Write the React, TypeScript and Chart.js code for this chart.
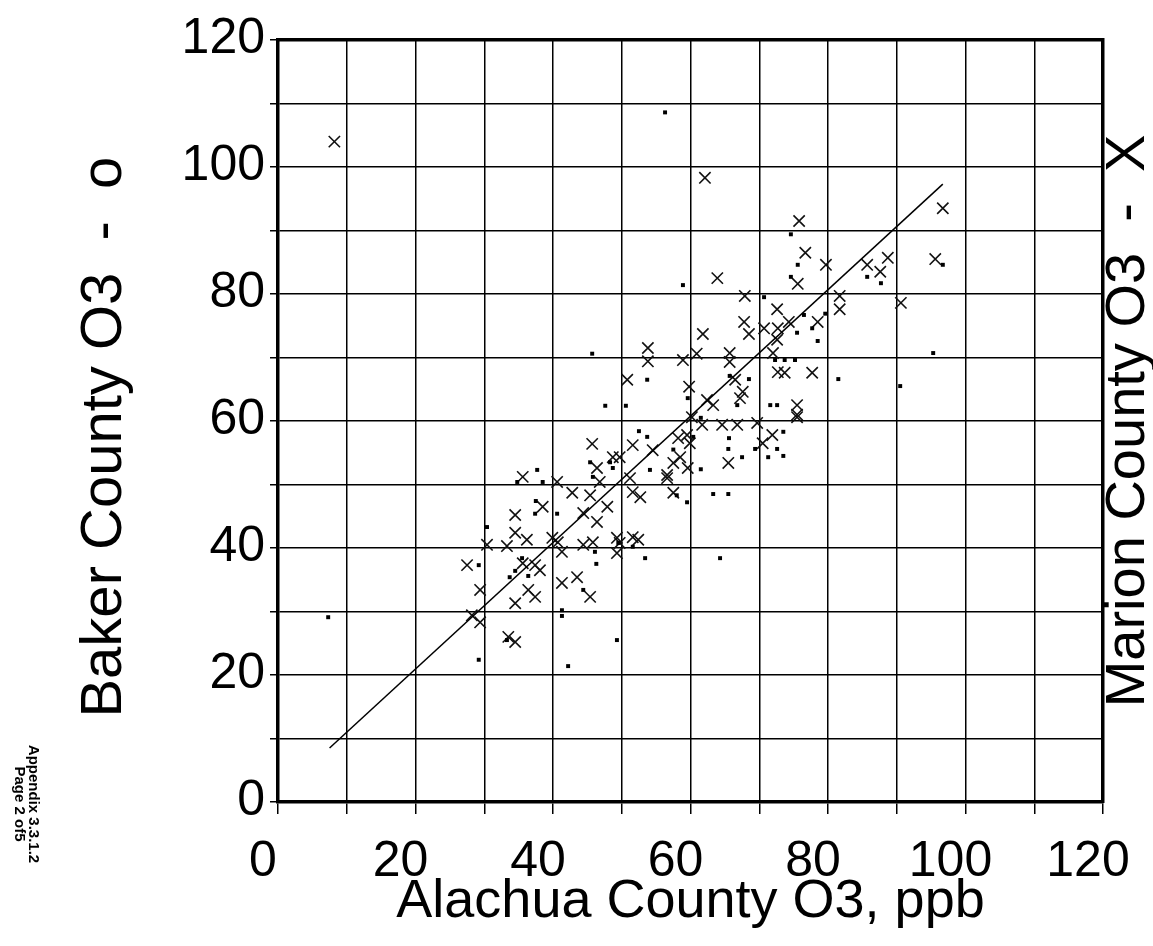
import React, { useEffect, useRef } from 'react';
import { Chart, registerables } from 'chart.js';

Chart.register(...registerables);

const FONT = '"Liberation Sans", Arial, Helvetica, sans-serif';

// Axis ranges / ticks
const axisMin = 0;
const axisMax = 120;
const gridStep = 10;
const labelStep = 20;

// Texts
const xTitle = 'Alachua County O3, ppb';
const yTitle = 'Baker County O3  -  o  ';
const rightTitle = 'Marion County O3  -  X';
const noteLines = ['Appendix 3.3.1.2', 'Page 2 of5'];

// Marion County O3 (crosses): [Alachua, Marion]
const marionPoints: [number, number][] = [
  [8.2, 104], [62.1, 98.3], [75.8, 91.5], [96.7, 93.5], [76.7, 86.5], [79.7, 84.6],
  [95.6, 85.5], [85.7, 84.6], [88.7, 85.7], [87.6, 83.5], [63.9, 82.5], [75.6, 81.6],
  [67.9, 79.7], [81.7, 79.7], [81.7, 77.6], [90.6, 78.6], [72.6, 77.6], [67.8, 75.6],
  [78.5, 75.6], [70.7, 74.6], [68.5, 73.7], [61.8, 73.7], [72.7, 74.6], [74.3, 75.6],
  [72.6, 72.8], [58.9, 69.6], [60.9, 70.6], [65.7, 70.7], [65.7, 69.3], [72.0, 70.7],
  [72.7, 67.7], [73.7, 67.6], [66.5, 66.5], [77.7, 67.6], [59.8, 65.4], [67.6, 64.6],
  [67.2, 63.6], [62.4, 63.3], [63.3, 62.5], [75.5, 62.5], [75.5, 61.0], [60.2, 60.6],
  [61.7, 59.4], [64.6, 59.4], [66.8, 59.4], [69.7, 59.7], [71.9, 57.8], [70.5, 56.5],
  [58.5, 54.3], [57.5, 53.4], [59.6, 52.6], [65.5, 53.4], [56.6, 51.5], [57.5, 48.7],
  [59.5, 57.8], [59.9, 56.5], [58.2, 57.3], [45.7, 56.4], [51.6, 56.2], [54.5, 55.4],
  [48.7, 54.3], [49.7, 54.3], [46.4, 52.6], [35.6, 51.2], [40.6, 50.4], [46.8, 50.4],
  [51.2, 51.0], [42.8, 48.7], [45.4, 48.3], [51.6, 48.8], [52.7, 48.0], [56.6, 51.0],
  [38.5, 46.5], [47.9, 46.5], [44.4, 45.5], [46.4, 44.1], [34.5, 45.2], [34.5, 42.4],
  [36.2, 41.3], [30.4, 40.5], [33.3, 40.3], [39.9, 41.6], [40.7, 40.9], [44.4, 40.5],
  [45.8, 40.9], [49.3, 41.6], [49.7, 40.8], [51.6, 41.7], [52.4, 41.3], [41.3, 39.4],
  [49.3, 39.2], [27.5, 37.3], [35.6, 37.6], [37.4, 37.3], [38.1, 36.5], [41.3, 34.5],
  [43.5, 35.4], [36.4, 33.4], [37.4, 32.3], [45.4, 32.3], [29.4, 33.4], [34.5, 31.3],
  [28.2, 29.4], [29.4, 28.3], [33.5, 26.0], [34.5, 25.2], [53.8, 71.5], [53.8, 69.4],
  [50.8, 66.5], [75.5, 60.6],
];

// Baker County O3 (dots): [Alachua, Baker]
const bakerPoints: [number, number][] = [
  [74.6, 89.4], [75.6, 84.6], [74.6, 82.7], [85.7, 82.7], [87.7, 81.7], [96.7, 84.6],
  [58.9, 81.4], [70.7, 79.5], [76.5, 76.7], [77.7, 74.6], [79.6, 76.9], [75.5, 73.9],
  [78.5, 72.6], [90.5, 65.5], [95.3, 70.7], [81.5, 66.6], [68.5, 66.6], [65.7, 67.1],
  [59.6, 63.6], [66.8, 62.5], [71.6, 62.5], [72.6, 62.5], [72.3, 69.6], [73.7, 69.6],
  [75.2, 69.6], [65.6, 57.3], [65.5, 55.6], [67.5, 54.3], [73.5, 58.3], [72.6, 55.6],
  [73.5, 54.5], [71.3, 54.3], [61.5, 52.4], [63.3, 48.5], [65.5, 48.5], [64.3, 38.4],
  [59.5, 47.2], [58.0, 48.3], [69.4, 55.6], [52.5, 58.4], [53.7, 57.5], [37.7, 52.3],
  [34.8, 50.4], [38.5, 50.4], [40.6, 45.4], [37.4, 45.4], [30.4, 43.3], [46.1, 39.4],
  [46.3, 37.5], [53.4, 38.4], [35.5, 38.4], [34.5, 36.4], [36.4, 35.6], [33.7, 35.4],
  [44.4, 33.4], [41.3, 30.2], [41.3, 29.3], [42.2, 21.4], [29.2, 37.3], [29.2, 22.4],
  [49.3, 25.5], [49.5, 40.8], [51.6, 40.2], [45.8, 51.2], [48.7, 52.6], [45.4, 53.5],
  [48.3, 53.5], [54.1, 52.3], [37.5, 47.4], [53.7, 66.5], [47.6, 62.4], [50.6, 62.4],
  [45.7, 70.6], [7.3, 29.1], [33.3, 25.5], [56.3, 108.6], [60.4, 57.5], [61.5, 60.5],
  [57.5, 55.5],
];

// Fitted line end points
const fitLine: [number, number][] = [
  [7.5, 8.5],
  [96.7, 97.3],
];

const toXY = (pts: [number, number][]) => pts.map(([x, y]) => ({ x, y }));

const sideTextPlugin = {
  id: 'sideTexts',
  afterDraw(chart: any) {
    const { ctx, chartArea } = chart;
    ctx.save();
    ctx.fillStyle = '#000';
    ctx.font = `56px ${FONT}`;
    ctx.textAlign = 'center';
    ctx.textBaseline = 'middle';
    ctx.translate(1129, (chartArea.top + chartArea.bottom) / 2);
    ctx.rotate(-Math.PI / 2);
    ctx.fillText(rightTitle, 0, 0);
    ctx.restore();

    ctx.save();
    ctx.fillStyle = '#000';
    ctx.font = `bold 15px ${FONT}`;
    ctx.textAlign = 'center';
    ctx.textBaseline = 'middle';
    ctx.translate(26, 804);
    ctx.rotate(Math.PI / 2);
    ctx.fillText(noteLines[0], 0, -7);
    ctx.fillText(noteLines[1], 0, 7);
    ctx.restore();
  },
};

export default function App() {
  const canvasRef = useRef<HTMLCanvasElement | null>(null);

  useEffect(() => {
    if (!canvasRef.current) return;
    const edgeAxis = (position: string) => ({
      type: 'linear',
      position,
      display: true,
      min: axisMin,
      max: axisMax,
      ticks: { display: false },
      grid: { display: false, drawTicks: false },
      border: { display: true, color: '#000', width: 3.5 },
      afterFit: (s: any) => {
        if (position === 'top') s.height = 0;
        else s.width = 0;
      },
    });
    const chart = new Chart(canvasRef.current, {
      type: 'scatter',
      data: {
        datasets: [
          {
            label: 'Fit',
            data: toXY(fitLine),
            xAxisID: 'x',
            yAxisID: 'y',
            showLine: true,
            borderColor: '#000',
            borderWidth: 1.5,
            pointRadius: 0,
            fill: false,
          },
          {
            label: 'Baker County O3',
            data: toXY(bakerPoints),
            xAxisID: 'x',
            yAxisID: 'y',
            pointStyle: 'rect',
            pointRadius: 2.8,
            backgroundColor: '#000',
            borderColor: '#000',
            borderWidth: 0,
          },
          {
            label: 'Marion County O3',
            data: toXY(marionPoints),
            xAxisID: 'x',
            yAxisID: 'y',
            pointStyle: 'crossRot',
            pointRadius: 8,
            borderColor: '#111',
            borderWidth: 1.6,
          },
        ],
      },
      options: {
        responsive: false,
        animation: false,
        devicePixelRatio: 1,
        layout: { padding: { left: 0, right: 50, top: 40, bottom: 0 } },
        plugins: {
          legend: { display: false },
          tooltip: { enabled: false },
        },
        scales: {
          x: {
            type: 'linear',
            position: 'bottom',
            min: axisMin,
            max: axisMax,
            ticks: {
              stepSize: gridStep,
              autoSkip: false,
              maxRotation: 0,
              padding: 3,
              labelOffset: -15,
              color: '#000',
              font: { family: FONT, size: 50, lineHeight: 1.8 },
              callback: (v: any) => (Number(v) % labelStep === 0 ? String(v) : ''),
            },
            grid: {
              color: '#000',
              lineWidth: 1.5,
              drawTicks: true,
              tickLength: 12,
            },
            border: { color: '#000', width: 3.5 },
            title: {
              display: true,
              text: xTitle,
              color: '#000',
              font: { family: FONT, size: 54 },
              padding: { top: 0, bottom: 11 },
            },
            afterFit: (s: any) => {
              s.height = 144;
            },
          },
          y: {
            type: 'linear',
            position: 'left',
            min: axisMin,
            max: axisMax,
            ticks: {
              stepSize: gridStep,
              autoSkip: false,
              padding: 5,
              labelOffset: -1,
              color: '#000',
              font: { family: FONT, size: 50 },
              callback: (v: any) => (Number(v) % labelStep === 0 ? String(v) : ''),
            },
            grid: {
              color: '#000',
              lineWidth: 1.5,
              drawTicks: true,
              tickLength: 8,
            },
            border: { color: '#000', width: 3.5 },
            title: {
              display: true,
              text: yTitle,
              color: '#000',
              font: { family: FONT, size: 58 },
              padding: { top: 70, bottom: 0 },
            },
            afterFit: (s: any) => {
              s.width = 278;
            },
          },
          x2: edgeAxis('top'),
          y2: edgeAxis('right'),
        },
      },
      plugins: [sideTextPlugin],
    } as any);
    return () => chart.destroy();
  }, []);

  return (
    <div style={{ position: 'absolute', left: 0, top: 0, width: 1153, height: 946, background: '#fff' }}>
      <canvas ref={canvasRef} width={1153} height={946} style={{ width: 1153, height: 946, display: 'block' }} />
    </div>
  );
}
